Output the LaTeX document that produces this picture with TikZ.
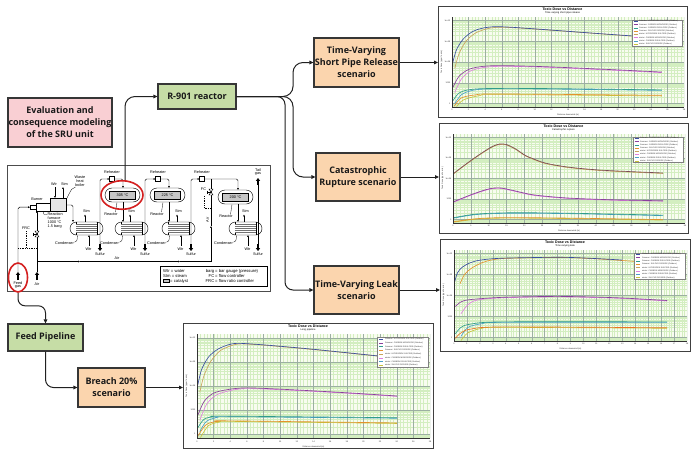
\documentclass[tikz,border=0pt]{standalone}
\usepackage{fontspec}
\setmainfont{Open Sans}
\newfontfamily\pfdfont{Liberation Sans}
\usetikzlibrary{arrows.meta,shapes.geometric,calc}

\definecolor{pinkbox}{HTML}{F9CFD3}
\definecolor{greenbox}{HTML}{C6DDA6}
\definecolor{orangebox}{HTML}{FBD5AE}
\definecolor{boxline}{HTML}{363636}
\definecolor{conncol}{HTML}{202020}
\definecolor{ringred}{HTML}{D42020}
\definecolor{plotbg}{HTML}{F8FCF0}
\definecolor{gridminor}{HTML}{D3EEC0}
\definecolor{gridmajor}{HTML}{9CAFA2}
\definecolor{cA}{HTML}{3A4FA0}
\definecolor{cB}{HTML}{C9A45C}
\definecolor{cC}{HTML}{8B3F9E}
\definecolor{cD}{HTML}{E080E0}
\definecolor{cE}{HTML}{2F9C8C}
\definecolor{cF}{HTML}{4AA0C8}
\definecolor{cG}{HTML}{E4922C}
\definecolor{cH}{HTML}{C9C23A}
\definecolor{cBrown}{HTML}{7A4A55}

\tikzset{
 mainbox/.style={draw=boxline, line width=1.1pt, align=center, inner sep=0pt, text=black!90, font=\bfseries\fontsize{9}{12}\selectfont},
 pinkb/.style={mainbox, fill=pinkbox},
 greenb/.style={mainbox, fill=greenbox},
 orangeb/.style={mainbox, fill=orangebox},
 conn/.style={draw=conncol, line width=1pt},
 arr/.style={conn, -{Triangle[length=4pt,width=3.6pt]}},
 pfdframe/.style={draw=black!70, line width=1.2pt, fill=white, inner sep=0pt},
 pl/.style={draw=black, line width=0.45pt},
 pla/.style={pl, -{Triangle[length=1.8pt,width=1.6pt]}},
 bigarr/.style={draw=black, line width=1.2pt, -{Triangle[length=2.8pt,width=4pt]}},
 leader/.style={draw=black, line width=0.3pt},
 ptxt/.style={font=\pfdfont\fontsize{3.8}{4.2}\selectfont, inner sep=0pt, align=center},
 plegtxt/.style={font=\pfdfont\fontsize{4.2}{4.6}\selectfont, inner sep=0pt},
 ctrl/.style={draw=black, line width=0.4pt, dash pattern=on 0.9pt off 0.9pt},
 redring/.style={ellipse, draw=ringred, line width=1.6pt, inner sep=0pt},
 chartbox/.style={draw=black!75, line width=1pt, fill=white, inner sep=0pt},
 gminor/.style={draw=gridminor, line width=0.25pt},
 gmajor/.style={draw=gridmajor, line width=0.35pt},
 caxis/.style={draw=black!80, line width=0.4pt},
 ctitle/.style={font=\pfdfont\bfseries\fontsize{3.6}{4}\selectfont, inner sep=0pt},
 csub/.style={font=\pfdfont\fontsize{2.5}{3}\selectfont, inner sep=0pt},
 ctick/.style={font=\pfdfont\fontsize{2.1}{2.4}\selectfont, inner sep=0pt, text=black!80},
 legtxt/.style={font=\pfdfont\fontsize{2}{2.3}\selectfont, inner sep=0pt, anchor=west, text=black!80},
 curve/.style={line width=0.65pt},
}

% chart: #1 name, #2 x1, #3 y1, #4 x2, #5 y2, #6 subtitle, #7 major x intervals, #8 label step, #9 curves
\newcommand{\tdchart}[9]{%
 \pgfmathsetmacro\pxa{#2+14}%
 \pgfmathsetmacro\pya{#3+11}%
 \pgfmathsetmacro\pw{#4-3-\pxa}%
 \pgfmathsetmacro\ph{#5-10-\pya}%
 \pgfmathsetmacro\fw{#4-#2}%
 \pgfmathsetmacro\fh{#5-#3}%
 \pgfmathsetmacro\fcx{(#2+#4)/2}%
 \pgfmathtruncatemacro\nmin{#7*5}%
 \node[chartbox, minimum width=\fw pt, minimum height=\fh pt, anchor=north west] (#1) at (#2,#3) {};
 \node[ctitle] at (\fcx,#3+3.4) {Toxic Dose vs Distance};
 \node[csub] at (\fcx,#3+6.8) {#6};
 \node[ctick, rotate=90] at (#2+3.5,{\pya+\ph/2}) {Toxic Dose (ppm\textasciicircum n.min)};
 \begin{scope}[shift={(\pxa,\pya)}, x={(\pw pt,0pt)}, y={(0pt,-\ph pt)}]
  \fill[plotbg] (0,0) rectangle (1,1);
  \begin{scope}
   \clip (0,0) rectangle (1,1);
   \foreach \k in {-1,...,4}{\foreach \m in {2,...,9}{%
     \draw[gminor] (0,{0.04+0.23*(\k+1)-0.23*ln(\m)/ln(10)}) -- (1,{0.04+0.23*(\k+1)-0.23*ln(\m)/ln(10)});}}
   \foreach \i in {1,...,\nmin}{\draw[gminor] ({\i/\nmin},0) -- ({\i/\nmin},1);}
   \foreach \i in {1,...,#7}{\draw[gmajor] ({\i/#7},0) -- ({\i/#7},1);}
   \foreach \k in {0,...,4}{\draw[gmajor] (0,{0.04+0.23*\k}) -- (1,{0.04+0.23*\k});}
  \end{scope}
  #9
  \draw[caxis] (0,0) -- (0,1) -- (1,1);
  \foreach \k/\lab in {0/1e+12,1/1e+09,2/1e+06,3/1000,4/1}{\node[ctick, anchor=east] at (-0.006,{0.04+0.23*\k}) {\lab};}
  \foreach \i [evaluate=\i as \xl using int(\i*#8)] in {0,...,#7}{\node[ctick, anchor=north] at ({\i/#7},1.025) {\xl};}
  \node[ctick, anchor=north] at (0.5,1.075) {Distance downwind (m)};
  \draw[fill=white, draw=black!50, line width=0.3pt] (0.775,0.03) rectangle (0.99,0.32);
  \foreach \c/\t [count=\j] in {cA/Summer: HYDROGEN SULFIDE (Outdoor),cC/Summer: CARBON MONOXIDE (Outdoor),cE/Summer: CARBON DISULFIDE (Outdoor),cG/Summer: SULFUR DIOXIDE (Outdoor),cB/winter: HYDROGEN SULFIDE (Outdoor),cD/winter: CARBON MONOXIDE (Outdoor),cF/winter: CARBON DISULFIDE (Outdoor),cH/winter: SULFUR DIOXIDE (Outdoor)}{%
    \draw[\c, line width=0.4pt] (0.783,{0.03+(\j-0.5)*0.03625}) -- (0.80,{0.03+(\j-0.5)*0.03625});
    \node[legtxt] at (0.806,{0.03+(\j-0.5)*0.03625}) {\t};}
 \end{scope}}

% condenser at left x #1, top y #2
\newcommand{\pfdcond}[2]{%
 \begin{scope}[shift={(#1,#2)}]
  \draw[pl, fill=white, rounded corners=6.4pt] (0,0) rectangle (33,13);
  \draw[pl] (6,0) -- (6,13) (27,0) -- (27,13);
  \fill[black!55] (6,2) rectangle (27,11);
  \foreach \t in {3.6,5.5,7.5,9.4} \draw[white, line width=0.35pt] (6,\t) -- (27,\t);
 \end{scope}}

% reactor at left x #1, top y #2, temperature #3
\newcommand{\pfdreac}[3]{%
 \begin{scope}[shift={(#1,#2)}]
  \draw[pl, fill=white, rounded corners=6.9pt] (0,0) rectangle (35,14);
  \draw[pl, fill=gray!45] (4.5,3) rectangle (30.5,11);
  \node[ptxt] at (17.5,7) {#3};
 \end{scope}}

% reheater at centre #1,#2
\newcommand{\pfdreheat}[2]{%
 \draw[pl, fill=white] (#1-2.5,#2-2.5) rectangle (#1+2.5,#2+2.5);
 \node[ptxt] at (#1,#2-7) {Reheater};}

% condenser unit: #1 condenser left x, #2 outlet pipe x
\newcommand{\pfdunit}[2]{%
 \pfdcond{#1}{222}
 \draw[pla] (#1+15,222) -- (#1+15,214.5);
 \node[ptxt] at (#1+16.5,211.3) {Stm};
 \draw[pla] (#1+19,245.5) -- (#1+19,235);
 \node[ptxt] at (#1+18.5,248.8) {Wtr};
 \node[ptxt, anchor=east] at (#1+4,243) {Condenser};
 \draw[leader] (#1+4.5,242.2) .. controls (#1+7,241.5) .. (#1+7.5,235.3);
 \draw[bigarr] (#2,244) -- (#2,251);
 \node[ptxt] at (#2,254.6) {Sulfur};}

\begin{document}
\begin{tikzpicture}[x=1pt,y=-1pt]
\useasboundingbox (0,0) rectangle (700,459);
\fill[white] (0,0) rectangle (700,459);

% ---------- main boxes ----------
\node[pinkb, minimum width=104pt, minimum height=49pt] (eval) at (60,122.5) {Evaluation and\\consequence modeling\\of the SRU unit};
\node[greenb, minimum width=78pt, minimum height=25pt] (r901) at (197,96.5) {R-901 reactor};
\node[orangeb, minimum width=85pt, minimum height=49pt] (short) at (356.5,62.5) {Time-Varying\\Short Pipe Release\\scenario};
\node[orangeb, minimum width=84pt, minimum height=48pt] (cata) at (358,177) {Catastrophic\\Rupture scenario};
\node[orangeb, minimum width=85pt, minimum height=48pt] (leak) at (356.5,290) {Time-Varying Leak\\scenario};
\node[greenb, minimum width=75pt, minimum height=27pt] (feedp) at (45.5,337.5) {Feed Pipeline};
\node[orangeb, minimum width=67pt, minimum height=39pt] (breach) at (111.5,387.5) {Breach 20\%\\scenario};

% ---------- charts ----------
\tdchart{ch1}{438}{6}{687}{117}{Time varying short pipe release}{14}{2}{%
 \draw[curve,cB] plot[smooth] coordinates {(0.012,0.57) (0.03,0.41) (0.06,0.27) (0.10,0.18) (0.145,0.135) (0.19,0.115) (0.26,0.118) (0.4,0.142) (0.6,0.18) (0.775,0.213)};
 \draw[curve,cA] plot[smooth] coordinates {(0.004,0.50) (0.02,0.36) (0.05,0.24) (0.09,0.16) (0.13,0.125) (0.18,0.108) (0.25,0.113) (0.4,0.14) (0.6,0.178) (0.775,0.21)};
 \draw[curve,cD] plot[smooth] coordinates {(0.012,0.84) (0.04,0.69) (0.08,0.60) (0.14,0.56) (0.22,0.548) (0.4,0.558) (0.7,0.592) (0.905,0.618)};
 \draw[curve,cC] plot[smooth] coordinates {(0.004,0.78) (0.03,0.66) (0.07,0.585) (0.12,0.553) (0.2,0.54) (0.4,0.552) (0.7,0.586) (0.905,0.612)};
 \draw[curve,cF] plot[smooth] coordinates {(0.012,0.96) (0.04,0.865) (0.08,0.82) (0.15,0.80) (0.4,0.80) (0.905,0.815)};
 \draw[curve,cE] plot[smooth] coordinates {(0.004,0.93) (0.03,0.845) (0.07,0.81) (0.15,0.795) (0.4,0.795) (0.905,0.81)};
 \draw[curve,cH] plot[smooth] coordinates {(0.02,0.995) (0.05,0.92) (0.12,0.873) (0.2,0.862) (0.905,0.877)};
 \draw[curve,cG] plot[smooth] coordinates {(0.01,0.99) (0.04,0.90) (0.1,0.866) (0.2,0.855) (0.905,0.87)};
}
\tdchart{ch2}{439}{123}{688}{233}{Catastrophic rupture}{13}{5}{%
 \draw[curve,cB] plot[smooth] coordinates {(0.004,0.445) (0.06,0.335) (0.12,0.225) (0.17,0.145) (0.20,0.118) (0.23,0.123) (0.27,0.173) (0.31,0.243) (0.345,0.283) (0.40,0.333) (0.5,0.378) (0.65,0.413) (0.906,0.443)};
 \draw[curve,cBrown] plot[smooth] coordinates {(0.004,0.44) (0.06,0.33) (0.12,0.22) (0.17,0.14) (0.20,0.113) (0.23,0.118) (0.27,0.168) (0.31,0.238) (0.345,0.278) (0.40,0.328) (0.5,0.373) (0.65,0.408) (0.906,0.438)};
 \draw[curve,cD] plot[smooth] coordinates {(0.004,0.765) (0.08,0.685) (0.15,0.625) (0.20,0.61) (0.26,0.64) (0.35,0.69) (0.5,0.725) (0.7,0.745) (0.906,0.755)};
 \draw[curve,cC] plot[smooth] coordinates {(0.004,0.76) (0.08,0.68) (0.15,0.62) (0.20,0.605) (0.26,0.635) (0.35,0.685) (0.5,0.72) (0.7,0.74) (0.906,0.75)};
 \draw[curve,cF] plot[smooth] coordinates {(0.004,0.945) (0.1,0.905) (0.25,0.89) (0.5,0.895) (0.906,0.917)};
 \draw[curve,cE] plot[smooth] coordinates {(0.004,0.94) (0.1,0.9) (0.25,0.885) (0.5,0.89) (0.906,0.912)};
 \draw[curve,cH] plot[smooth] coordinates {(0.004,0.99) (0.1,0.957) (0.22,0.945) (0.5,0.95) (0.906,0.967)};
 \draw[curve,cG] plot[smooth] coordinates {(0.004,0.985) (0.1,0.952) (0.22,0.94) (0.5,0.945) (0.906,0.962)};
}
\tdchart{ch3}{440}{239}{690}{351}{Time varying leak}{18}{1}{%
 \draw[curve,cG] plot[smooth] coordinates {(0.026,0.37) (0.045,0.27) (0.075,0.20) (0.12,0.14) (0.17,0.105) (0.24,0.09) (0.455,0.082) (0.6,0.095) (0.775,0.125)};
 \draw[curve,cA] plot[smooth] coordinates {(0.004,0.34) (0.015,0.25) (0.035,0.19) (0.07,0.14) (0.115,0.11) (0.21,0.09) (0.455,0.08) (0.6,0.093) (0.72,0.11)};
 \draw[curve,cD] plot[smooth] coordinates {(0.03,0.70) (0.06,0.60) (0.1,0.55) (0.21,0.525) (0.455,0.515) (0.7,0.53) (0.915,0.56)};
 \draw[curve,cC] plot[smooth] coordinates {(0.006,0.62) (0.03,0.57) (0.07,0.545) (0.21,0.52) (0.455,0.51) (0.7,0.525) (0.915,0.555)};
 \draw[curve,cF] plot[smooth] coordinates {(0.03,0.95) (0.06,0.85) (0.12,0.81) (0.21,0.795) (0.915,0.795)};
 \draw[curve,cE] plot[smooth] coordinates {(0.006,0.92) (0.03,0.85) (0.07,0.815) (0.21,0.79) (0.915,0.79)};
 \draw[curve,cH] plot[smooth] coordinates {(0.03,0.995) (0.06,0.91) (0.12,0.86) (0.21,0.85) (0.915,0.86)};
 \draw[curve,cG!80!red] plot[smooth] coordinates {(0.006,0.97) (0.03,0.91) (0.07,0.87) (0.21,0.845) (0.915,0.855)};
}
\tdchart{ch4}{183}{323}{433}{448}{Long pipeline}{14}{2}{%
 \draw[curve,cB] plot[smooth] coordinates {(0.012,0.56) (0.03,0.40) (0.06,0.26) (0.10,0.16) (0.15,0.11) (0.19,0.095) (0.3,0.11) (0.5,0.15) (0.773,0.212)};
 \draw[curve,cA] plot[smooth] coordinates {(0.004,0.485) (0.02,0.34) (0.05,0.22) (0.09,0.145) (0.14,0.10) (0.185,0.09) (0.3,0.107) (0.5,0.147) (0.773,0.21)};
 \draw[curve,cD] plot[smooth] coordinates {(0.012,0.83) (0.04,0.68) (0.08,0.59) (0.14,0.545) (0.215,0.525) (0.4,0.54) (0.65,0.57) (0.858,0.60)};
 \draw[curve,cC] plot[smooth] coordinates {(0.004,0.78) (0.03,0.65) (0.07,0.57) (0.13,0.535) (0.215,0.518) (0.4,0.535) (0.65,0.566) (0.858,0.596)};
 \draw[curve,cF] plot[smooth] coordinates {(0.012,0.94) (0.04,0.84) (0.09,0.80) (0.13,0.795) (0.858,0.81)};
 \draw[curve,cE] plot[smooth] coordinates {(0.004,0.90) (0.03,0.82) (0.07,0.795) (0.13,0.79) (0.858,0.805)};
 \draw[curve,cH] plot[smooth] coordinates {(0.015,0.995) (0.05,0.88) (0.1,0.845) (0.14,0.84) (0.858,0.86)};
 \draw[curve,cG] plot[smooth] coordinates {(0.004,0.98) (0.04,0.87) (0.09,0.84) (0.14,0.835) (0.858,0.855)};
}

% ---------- process flow diagram ----------
\node[pfdframe, minimum width=263pt, minimum height=126pt, anchor=north west] (pfd) at (7,165) {};

% feed gas and air inlets
\draw[bigarr] (18,280) -- (18,272);
\node[ptxt] at (18,283.3) {Feed};
\node[ptxt] at (18,287) {gas};
\draw[pla, rounded corners=1.5pt] (18,272) |- (30,207.2);
\draw[bigarr] (37,280) -- (37,272);
\node[ptxt] at (37,284) {Air};
\draw[pla] (37,272) -- (37,211);
% FRC
\draw[pl, fill=white] (35,231) -- (39,231) -- (35,237) -- (39,237) -- cycle;
\draw[pl] (37,234) -- (33.5,234) (33.5,232.5) -- (33.5,235.5);
\node[ptxt] at (26,228.5) {FRC};
\draw[ctrl] (26,231) -- (26,248);
\draw[ctrl] (18,248) -- (37,248);
% air header
\draw[pla] (37,261.5) -- (80,261.5);
\draw[pla] (80,261.5) -- (180,261.5);
\draw[pla] (180,261.5) -| (211,226);
\draw[pl] (211,226) -- (211,179);
\node[ptxt] at (117,258.6) {Air};
% burner, furnace, boiler
\draw[pl, fill=white] (30,205) rectangle (36,209.5);
\draw[pl, fill=white] (36,203) rectangle (50,211);
\draw[pl, line width=0.6pt, fill=gray!20] (50,198) rectangle (66,211);
\node[ptxt] at (37,198.8) {Burner};
\draw[pla] (55,187) -- (55,198);
\node[ptxt] at (54,184) {Wtr};
\draw[pla] (63,198) -- (63,187);
\node[ptxt] at (64.5,184) {Stm};
\node[ptxt] at (80,177) {Waste};
\node[ptxt] at (80,181) {heat};
\node[ptxt] at (80,185) {boiler};
\draw[leader] (75.5,187) .. controls (72,188) .. (66.5,199);
\node[ptxt, anchor=west] at (47.5,214.6) {Reaction};
\node[ptxt, anchor=west] at (47.5,218.6) {furnace};
\node[ptxt, anchor=west] at (47.5,222.6) {1000 °C};
\node[ptxt, anchor=west] at (47.5,226.6) {1.5 barg};
\draw[leader] (43,211.3) .. controls (43.5,214.5) .. (47,214.6);
\draw[pla, rounded corners=1.5pt] (66,205) -| (73,222);

% condenser units
\pfdunit{70}{100}
\pfdunit{115}{145}
\pfdunit{162}{191}
\pfdunit{229}{258}

% reheaters and reactors
\pfdreheat{112}{179}
\pfdreheat{158}{179}
\pfdreheat{202}{179}
\pfdreac{105}{188}{305 °C}
\pfdreac{150}{188}{225 °C}
\pfdreac{218}{190}{200 °C}
\node[ptxt] at (111,214) {Reactor};
\draw[leader] (115.5,212) .. controls (116.5,208) .. (117,202.5);
\node[ptxt] at (157,214) {Reactor};
\draw[leader] (161.5,212) .. controls (162.5,208) .. (163,202.5);
\node[ptxt] at (226,216.5) {Reactor};
\draw[leader] (230.5,214.5) .. controls (231.5,210) .. (232,204.5);

% process lines
\draw[pla, rounded corners=1.5pt] (100,244) |- (109.5,179);
\draw[pla, rounded corners=1.5pt] (114.5,179) -| (123,188);
\draw[pla] (123,202) -- (123,222);
\draw[pla, rounded corners=1.5pt] (145,244) |- (155.5,179);
\draw[pla, rounded corners=1.5pt] (160.5,179) -| (169,188);
\draw[pla] (169,202) -- (169,222);
\draw[pla, rounded corners=1.5pt] (191,244) |- (199.5,179);
\draw[pla, rounded corners=1.5pt] (204.5,179) -| (238,190);
\draw[pla] (238,204) -- (238,222);
\draw[pl] (258,244) -- (258,185);
\draw[bigarr] (258,185) -- (258,178);
\node[ptxt] at (258,170.3) {Tail};
\node[ptxt] at (258,174.1) {gas};

% FC on air to third stage
\draw[pl, fill=white] (209,189) -- (213,189) -- (209,195) -- (213,195) -- cycle;
\draw[pl] (211,192) -- (207.5,192) (207.5,190.5) -- (207.5,193.5);
\node[ptxt] at (203.5,189.3) {FC};
\draw[ctrl] (204,196) -- (204,208) -- (211,208);
\node[ptxt, rotate=90] at (207.6,220) {Air};

% legend of the PFD
\draw[pl, line width=0.5pt] (160,266.5) rectangle (267,286.5);
\node[plegtxt, anchor=west] at (163,271.3) {Wtr = water};
\node[plegtxt, anchor=west] at (163,276.2) {Stm = steam};
\draw[pl, fill=gray!45] (163,279.6) rectangle (169,282.6);
\node[plegtxt, anchor=west] at (170,281.1) {= catalyst};
\node[plegtxt, anchor=east] at (214.5,271.3) {barg};
\node[plegtxt, anchor=west] at (215,271.3) {= bar gauge (pressure)};
\node[plegtxt, anchor=east] at (214.5,276.2) {FC};
\node[plegtxt, anchor=west] at (215,276.2) {= flow controller};
\node[plegtxt, anchor=east] at (214.5,281.1) {FRC};
\node[plegtxt, anchor=west] at (215,281.1) {= flow ratio controller};

% red highlight rings
\node[redring, minimum width=42pt, minimum height=28.5pt] (rc1) at (122,195) {};
\node[redring, minimum width=19pt, minimum height=29pt] (rc2) at (18,277.5) {};

% ---------- connectors ----------
\draw[arr, rounded corners=10pt] ([xshift=3pt]rc1.north) |- (r901.west);
\draw[arr, rounded corners=10pt] (r901.east) -- (293,96.5) |- (short.west);
\draw[arr, rounded corners=10pt] (r901.east) -- (293,96.5) |- (cata.west);
\draw[arr, rounded corners=8pt] (r901.east) -- (285,96.5) |- (leak.west);
\draw[arr] (short.east) -- (short.east -| ch1.west);
\draw[arr] (cata.east) -- (cata.east -| ch2.west);
\draw[arr] (leak.east) -- (leak.east -| ch3.west);
\draw[arr, rounded corners=7pt] (rc2.south) -- ++(0,13) -| (feedp.north);
\draw[arr, rounded corners=8pt] (feedp.south) |- (breach.west);
\draw[arr] (breach.east) -- (breach.east -| ch4.west);
\end{tikzpicture}
\end{document}
